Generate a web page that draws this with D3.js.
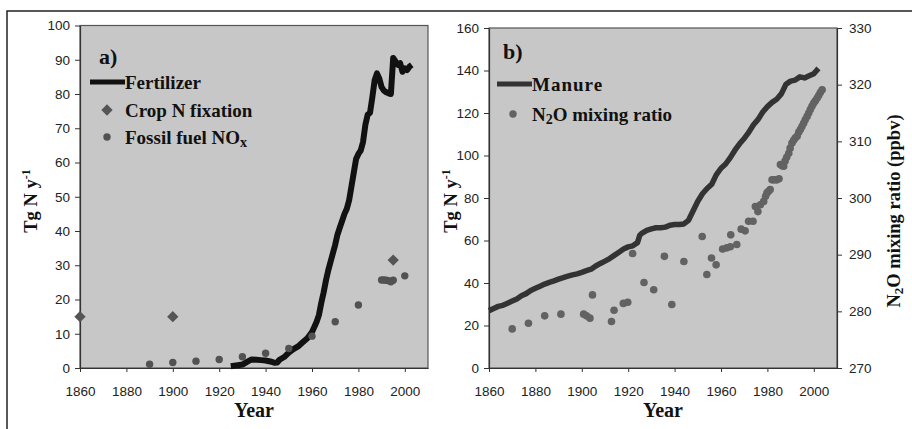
<!DOCTYPE html>
<html><head><meta charset="utf-8">
<script src="https://cdn.jsdelivr.net/npm/d3@7"></script>
<style>body{margin:0;background:#fff}svg{display:block}</style>
</head><body><svg id="c" width="912" height="429"></svg>
<script>
// ---- Panel a data ----
const fertYears  = [1925,1928,1930,1932,1934,1936,1938,1940,1942,1944,1945,1946,1948,1950,1952,1954,1956,1958,1960,1961,1962,1963,1964,1965,1966,1967,1968,1969,1970,1971,1972,1973,1974,1975,1976,1977,1978,1979,1980,1981,1982,1983,1984,1985,1986,1987,1988,1989,1990,1991,1992,1993,1994,1995,1996,1997,1998,1999,2000,2001,2002,2003];
const fertValues = [0.5,0.8,1.0,1.8,2.5,2.4,2.3,2.2,1.9,1.5,1.6,2.4,3.2,4.5,5.5,6.3,7.5,8.7,10.5,12,13.5,15.5,19,22,25.5,28.5,31,33.5,36,39,41,43,45,46.5,49,53,57,61,62.5,63.5,66,71,74,74.5,79,84,86,84.5,82,81,80.5,80.2,80,90.5,89.5,88.5,89,86.5,87.5,87,88,88.5];
const cropYears  = [1860,1900,1995];
const cropValues = [15,15,31.5];
const noxYears   = [1890,1900,1910,1920,1930,1940,1950,1960,1970,1980,1990,1991,1992,1993,1994,1995,2000];
const noxValues  = [1.1,1.6,2.0,2.5,3.3,4.3,5.7,9.3,13.5,18.4,25.7,25.7,25.6,25.5,25.2,25.6,26.9];
const aYTicks = [0,10,20,30,40,50,60,70,80,90,100];
const xTicks  = [1860,1880,1900,1920,1940,1960,1980,2000];

// ---- Panel b data ----
const manureYears  = [1860,1862,1864,1866,1868,1870,1872,1874,1876,1878,1880,1882,1884,1886,1888,1890,1892,1894,1896,1898,1900,1902,1904,1906,1908,1910,1912,1914,1916,1918,1920,1922,1924,1925,1926,1928,1930,1932,1934,1936,1938,1940,1942,1944,1946,1948,1950,1952,1954,1956,1958,1960,1962,1964,1966,1968,1970,1972,1974,1976,1978,1980,1982,1984,1986,1988,1990,1992,1994,1996,1998,2000,2002];
const manureValues = [27,28,29,29.5,30.5,31.5,32.5,34,35,36.5,37.5,38.5,39.5,40.3,41,41.8,42.5,43.2,43.8,44.3,45,45.8,46.5,48,49.2,50.3,51.5,53,54.5,56,57,57.5,59,62.5,63.5,64.8,65.5,66,66,66.3,67.2,67.5,67.5,67.8,69.5,74,78.5,82,84.5,86.5,91,94,96,99,102.5,105.5,108,111,114.5,117,120.5,123,125,126.5,129,133.5,135,135.5,137,136.5,137.5,138.5,141];
const n2oYears  = [1870,1877,1884,1891,1900.8,1902,1903.5,1904.6,1912.8,1913.9,1917.9,1919.8,1921.9,1926.8,1931,1935.6,1938.8,1944,1951.9,1953.9,1955.9,1957.9,1960.7,1962.5,1964,1964.2,1966.8,1968.7,1970.4,1971.9,1973.8,1974.8,1975.9,1977,1978.4,1979.2,1979.8,1980.5,1981.2,1982,1983,1984.1,1985,1985.6,1986.3,1987,1987.6,1988.3,1989.2,1989.8,1990.6,1991.3,1992,1992.8,1993.5,1994.2,1994.9,1995.6,1996.3,1997.1,1997.8,1998.5,1999.2,1999.9,2000.6,2001.4,2002.1,2002.8,2003.6];
const n2oValues = [276.9,277.9,279.2,279.5,279.5,279.2,278.8,282.9,278.2,280.2,281.4,281.6,290.2,285.1,283.8,289.7,281.2,288.8,293.2,286.5,289.4,288.2,291,291.2,291.4,293.5,291.8,294.5,294.2,295.9,295.9,298.5,297.6,298.8,299.4,300.3,300.9,301.2,301.5,303.2,303.2,303.2,303.4,305.9,305.7,305.6,306.5,307.2,307.9,308.8,309.7,310.2,310.6,310.9,311.6,312.1,312.6,313.2,313.8,314.4,315,315.6,316.2,316.7,317.1,317.6,318.1,318.6,319.1];
const bYTicks  = [0,20,40,60,80,100,120,140,160];
const bY2Ticks = [270,280,290,300,310,320,330];

const svg = d3.select("#c");
const SERIF = "'Liberation Serif','Times New Roman',serif";
const SANS = "'Liberation Sans',Arial,sans-serif";
const TICKFS = 13.5, LEGFS = 19, TITLEFS = 18.5;

// outer frame (top and left edges visible)
svg.append("path").attr("d","M7,429 L7,11 L912,11").attr("fill","none").attr("stroke","#222").attr("stroke-width",1.5);

const styleAxis = a => { a.select(".domain").attr("stroke","#333").attr("stroke-width",1.2);
  a.selectAll(".tick line").attr("stroke","#333");
  a.selectAll(".tick text").attr("font-family",SANS).attr("font-size",TICKFS).attr("fill","#222"); };

function panel(cfg){
  const g = svg.append("g");
  const x = d3.scaleLinear().domain([1860,2010]).range([cfg.x0,cfg.x1]);
  const y = d3.scaleLinear().domain(cfg.yDom).range([368,cfg.yTop]);
  g.append("rect").attr("x",cfg.x0).attr("y",cfg.yTop).attr("width",cfg.x1-cfg.x0).attr("height",368-cfg.yTop)
    .attr("fill","#c7c7c7").attr("stroke","#555").attr("stroke-width",1.2);
  g.append("g").attr("transform","translate(0,368)")
    .call(d3.axisBottom(x).tickValues(xTicks).tickFormat(d3.format("d")).tickSize(4).tickSizeOuter(0).tickPadding(14)).call(styleAxis);
  g.append("g").attr("transform",`translate(${cfg.x0},0)`)
    .call(d3.axisLeft(y).tickValues(cfg.yTicks).tickSize(5).tickSizeOuter(0).tickPadding(5)).call(styleAxis);
  g.append("text").attr("x",(cfg.x0+cfg.x1)/2).attr("y",417).attr("text-anchor","middle")
    .attr("font-family",SERIF).attr("font-weight","bold").attr("font-size",20).attr("fill","#111").text("Year");
  const yl = g.append("text").attr("transform",`translate(${cfg.yLabX},201) rotate(-90)`).attr("text-anchor","middle")
    .attr("font-family",SERIF).attr("font-weight","bold").attr("font-size",TITLEFS).attr("fill","#111");
  yl.append("tspan").text("Tg N y");
  yl.append("tspan").attr("dy",-7).attr("font-size",12).text("-1");
  g.append("text").attr("x",cfg.tagX).attr("y",cfg.tagY).attr("font-family",SERIF).attr("font-weight","bold")
    .attr("font-size",22).attr("fill","#111").text(cfg.tag);
  return {g,x,y};
}

// ---------- Panel a ----------
const A = panel({x0:80,x1:428,yTop:25.5,yDom:[0,100],yTicks:aYTicks,yLabX:37,tag:"a)",tagX:99,tagY:64});
A.g.append("path").datum(fertYears.map((d,i)=>[d,fertValues[i]]))
  .attr("d",d3.line().x(d=>A.x(d[0])).y(d=>A.y(d[1])))
  .attr("fill","none").attr("stroke","#111").attr("stroke-width",6).attr("stroke-linejoin","round");
const diamond = d3.symbol().type(d3.symbolSquare).size(64);
A.g.selectAll(".crop").data(cropYears).join("path")
  .attr("transform",(d,i)=>`translate(${A.x(d)},${A.y(cropValues[i])}) rotate(45)`)
  .attr("d",diamond).attr("fill","#555");
A.g.selectAll(".nox").data(noxYears).join("circle")
  .attr("cx",d=>A.x(d)).attr("cy",(d,i)=>A.y(noxValues[i])).attr("r",3.7).attr("fill","#525252");
// legend a
A.g.append("line").attr("x1",90).attr("x2",125).attr("y1",82).attr("y2",82).attr("stroke","#111").attr("stroke-width",5);
const legA = (y,t)=>A.g.append("text").attr("x",125).attr("y",y).attr("font-family",SERIF).attr("font-weight","bold")
  .attr("font-size",LEGFS).attr("fill","#111").text(t);
legA(89,"Fertilizer");
A.g.append("path").attr("transform","translate(107,110) rotate(45)").attr("d",diamond).attr("fill","#555");
legA(117,"Crop N fixation");
A.g.append("circle").attr("cx",107).attr("cy",137).attr("r",3.7).attr("fill","#525252");
const nox = legA(144,"Fossil fuel NO");
nox.append("tspan").attr("dy",3).attr("font-size",14).text("x");

// ---------- Panel b ----------
const B = panel({x0:489,x1:837,yTop:28,yDom:[0,160],yTicks:bYTicks,yLabX:457,tag:"b)",tagX:503,tagY:59});
const y2 = d3.scaleLinear().domain([270,330]).range([368,28]);
B.g.append("g").attr("transform","translate(837,0)")
  .call(d3.axisRight(y2).tickValues(bY2Ticks).tickSize(5).tickSizeOuter(0).tickPadding(7)).call(styleAxis);
const r2 = B.g.append("text").attr("transform","translate(900,211) rotate(-90)").attr("text-anchor","middle")
  .attr("font-family",SERIF).attr("font-weight","bold").attr("font-size",TITLEFS).attr("fill","#111");
r2.append("tspan").text("N");
r2.append("tspan").attr("dy",3).attr("font-size",13).text("2");
r2.append("tspan").attr("dy",-3).text("O mixing ratio (ppbv)");
B.g.append("path").datum(manureYears.map((d,i)=>[d,manureValues[i]]))
  .attr("d",d3.line().x(d=>B.x(d[0])).y(d=>B.y(d[1])))
  .attr("fill","none").attr("stroke","#333").attr("stroke-width",5.5).attr("stroke-linejoin","round");
B.g.selectAll(".n2o").data(n2oYears).join("circle")
  .attr("cx",d=>B.x(d)).attr("cy",(d,i)=>y2(n2oValues[i])).attr("r",3.8).attr("fill","#626262");
// legend b
B.g.append("line").attr("x1",497).attr("x2",532).attr("y1",84).attr("y2",84).attr("stroke","#333").attr("stroke-width",5);
B.g.append("text").attr("x",532).attr("y",91).attr("font-family",SERIF).attr("font-weight","bold")
  .attr("font-size",LEGFS).attr("letter-spacing",1).attr("fill","#111").text("Manure");
B.g.append("circle").attr("cx",513).attr("cy",114).attr("r",3.7).attr("fill","#626262");
const lb = B.g.append("text").attr("x",532).attr("y",121).attr("font-family",SERIF).attr("font-weight","bold")
  .attr("font-size",LEGFS).attr("fill","#111");
lb.append("tspan").text("N");
lb.append("tspan").attr("dy",3).attr("font-size",14).text("2");
lb.append("tspan").attr("dy",-3).text("O mixing ratio");
</script></body></html>
